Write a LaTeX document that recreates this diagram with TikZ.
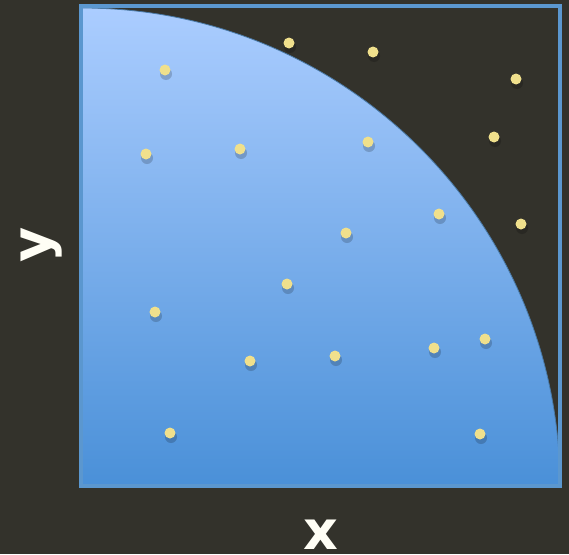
\documentclass[tikz,border=0pt]{standalone}
\usepackage{fontspec}
\setmainfont{DejaVu Sans}
\begin{document}
\begin{tikzpicture}[x=1pt,y=-1pt,
  dot/.style={circle,fill=dotc,inner sep=0pt,minimum size=11pt},
  dotshadow/.style={circle,fill=black,opacity=0.18,inner sep=0pt,minimum size=12pt},
  lbl/.style={text=white!96!yellow,font=\fontsize{54}{54}\selectfont\bfseries,inner sep=0pt}]
\definecolor{bg}{HTML}{33322B}
\definecolor{dotc}{HTML}{F0E08C}
\definecolor{edgec}{HTML}{5B97CF}
\definecolor{topc}{HTML}{ABCDFF}
\definecolor{botc}{HTML}{4A90D8}
\fill[bg] (0,0) rectangle (569,554);
\useasboundingbox (0,0) rectangle (569,554);
% quarter circle
\shade[top color=topc,bottom color=botc,draw=edgec!80!black,line width=0.8pt]
  (82,486) -- (82,8) arc[start angle=-90,end angle=0,radius=478] -- cycle;
% square frame
\draw[edgec,line width=4pt] (81,6) rectangle (560,486);
% dots
\foreach \px/\py [count=\i] in {165/70,289/43,373/52,516/79,146/154,240/149,368/142,494/137,439/214,521/224,346/233,287/284,155/312,250/361,335/356,434/348,485/339,170/433,480/434}{
  \node[dotshadow] at (\px+1,\py+4) {};
  \node[dot] (d\i) at (\px,\py) {};
}
\node[lbl,anchor=base] (xl) at (321,549) {x};
\node[lbl,rotate=90,anchor=base] (yl) at (50,245) {y};
\end{tikzpicture}
\end{document}
